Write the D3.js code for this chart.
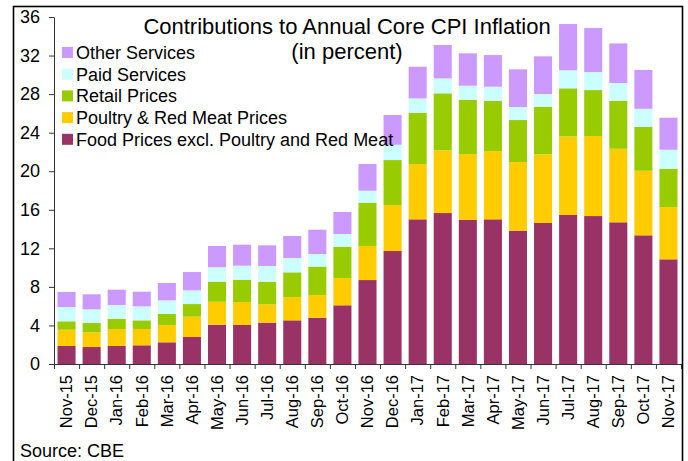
<!DOCTYPE html>
<html lang="en">
<head>
    <meta charset="UTF-8">
    <script src="https://d3js.org/d3.v7.min.js"></script>
    <title>Core CPI contributions</title>
    <style>
        body {
            margin: 0;
            background: #fff;
            font-family: "Liberation Sans", Arial, sans-serif;
        }
        .axis text {
            font-size: 18px;
            fill: #000;
        }
        .axis path, .axis line {
            stroke: #333;
        }
    </style>
</head>
<body>
<div id="chart"></div>
<script>

    // data (each segment's own height, in percentage points)
    var months = ["Nov-15", "Dec-15", "Jan-16", "Feb-16", "Mar-16", "Apr-16", "May-16", "Jun-16",
        "Jul-16", "Aug-16", "Sep-16", "Oct-16", "Nov-16", "Dec-16", "Jan-17", "Feb-17", "Mar-17",
        "Apr-17", "May-17", "Jun-17", "Jul-17", "Aug-17", "Sep-17", "Oct-17", "Nov-17"];

    var foodExcl = [1.87, 1.76, 1.87, 1.94, 2.25, 2.80, 4.08, 4.05, 4.29, 4.53, 4.80, 6.09, 8.71,
        11.72, 15.01, 15.66, 14.97, 15.01, 13.83, 14.63, 15.46, 15.35, 14.70, 13.35, 10.86];
    var poultryMeat = [1.69, 1.53, 1.76, 1.69, 1.80, 2.11, 2.38, 2.38, 1.90, 2.42, 2.36, 2.83, 3.53,
        4.77, 5.74, 6.51, 6.81, 7.09, 7.12, 7.12, 8.16, 8.30, 7.63, 6.70, 5.43];
    var retail = [0.87, 0.96, 1.07, 0.90, 1.14, 1.31, 2.08, 2.32, 2.35, 2.56, 2.94, 3.25, 4.49,
        4.67, 5.32, 5.91, 5.64, 5.21, 4.36, 4.94, 4.98, 4.77, 4.98, 4.54, 3.97];
    var paidServices = [1.48, 1.42, 1.42, 1.45, 1.41, 1.42, 1.49, 1.45, 1.63, 1.49, 1.31, 1.32, 1.25,
        1.59, 1.49, 1.55, 1.45, 1.46, 1.35, 1.32, 1.87, 1.87, 1.84, 1.89, 1.97];
    var otherServices = [1.56, 1.56, 1.59, 1.52, 1.80, 1.90, 2.21, 2.18, 2.14, 2.28, 2.52, 2.28, 2.77,
        3.08, 3.28, 3.46, 3.36, 3.28, 3.91, 3.91, 4.80, 4.56, 4.11, 4.02, 3.32];

    var seriesNames = ["Food Prices excl. Poultry and Red Meat", "Poultry & Red Meat Prices",
        "Retail Prices", "Paid Services", "Other Services"];
    var seriesColors = ["#993366", "#FFCC00", "#99CC00", "#CCFFFF", "#CC99FF"];
    var yTicks = [0, 4, 8, 12, 16, 20, 24, 28, 32, 36];

    var W = 688, H = 461;
    var margin = {top: 17, right: 7, bottom: 97, left: 54},
        width = W - margin.left - margin.right,
        height = H - margin.top - margin.bottom;

    var svg = d3.select("#chart")
        .append("svg")
        .attr("width", W)
        .attr("height", H);

    // outer frame
    svg.append("rect")
        .attr("x", 13.5)
        .attr("y", 6.5)
        .attr("width", 669)
        .attr("height", 470)
        .attr("fill", "none")
        .attr("stroke", "#000")
        .attr("stroke-width", 1.6);

    var g = svg.append("g")
        .attr("transform", "translate(" + margin.left + "," + margin.top + ")");

    // build rows for the stack
    var rows = months.map(function(m, i) {
        var r = {month: m};
        r[seriesNames[0]] = foodExcl[i];
        r[seriesNames[1]] = poultryMeat[i];
        r[seriesNames[2]] = retail[i];
        r[seriesNames[3]] = paidServices[i];
        r[seriesNames[4]] = otherServices[i];
        return r;
    });
    var stacked = d3.stack().keys(seriesNames)(rows);

    var x = d3.scaleBand()
        .domain(months)
        .range([0, width])
        .paddingInner(0.28)
        .paddingOuter(0.14);

    var y = d3.scaleLinear()
        .domain([0, 36])
        .range([height, 0]);

    var color = d3.scaleOrdinal().domain(seriesNames).range(seriesColors);

    // bars
    g.selectAll("g.layer")
        .data(stacked)
        .enter().append("g")
        .attr("class", "layer")
        .attr("fill", function(d) { return color(d.key); })
        .selectAll("rect")
        .data(function(d) { return d; })
        .enter().append("rect")
        .attr("x", function(d) { return x(d.data.month); })
        .attr("y", function(d) { return y(d[1]); })
        .attr("height", function(d) { return y(d[0]) - y(d[1]); })
        .attr("width", x.bandwidth());

    // Y axis
    g.append("g")
        .attr("class", "axis")
        .call(d3.axisLeft(y).tickValues(yTicks).tickSize(5).tickPadding(9).tickSizeOuter(0));

    // X axis: ticks on category boundaries
    var xb = d3.scaleLinear().domain([0, months.length]).range([0, width]);
    g.append("g")
        .attr("class", "axis")
        .attr("transform", "translate(0," + height + ")")
        .call(d3.axisBottom(xb).tickValues(d3.range(months.length + 1)).tickFormat("").tickSize(5).tickSizeOuter(0));

    // X labels, rotated
    var xl = g.append("g")
        .attr("class", "axis")
        .attr("transform", "translate(0," + height + ")")
        .call(d3.axisBottom(x).tickSize(0));
    xl.select(".domain").remove();
    xl.selectAll("text")
        .attr("transform", "rotate(-90)")
        .attr("text-anchor", "end")
        .attr("x", -11)
        .attr("y", 0)
        .attr("dy", "0.35em")
        .style("font-size", "16.5px");

    // title
    svg.append("text")
        .attr("x", 347)
        .attr("y", 34)
        .attr("text-anchor", "middle")
        .style("font-size", "22px")
        .text("Contributions to Annual Core CPI Inflation");
    svg.append("text")
        .attr("x", 347)
        .attr("y", 59)
        .attr("text-anchor", "middle")
        .style("font-size", "22px")
        .text("(in percent)");

    // legend (top entry is the top of the stack)
    var legendOrder = seriesNames.slice().reverse();
    var legend = svg.append("g")
        .selectAll("g")
        .data(legendOrder)
        .enter().append("g")
        .attr("transform", function(d, i) { return "translate(62," + (59 + i * 21.7) + ")"; });
    legend.append("rect")
        .attr("x", 0)
        .attr("y", -12)
        .attr("width", 11)
        .attr("height", 11)
        .attr("fill", function(d) { return color(d); });
    legend.append("text")
        .attr("x", 14)
        .attr("y", 0)
        .style("font-size", "18px")
        .text(function(d) { return d; });

    // source note
    svg.append("text")
        .attr("x", 20)
        .attr("y", 457)
        .style("font-size", "18px")
        .text("Source: CBE");

</script>
</body>
</html>
